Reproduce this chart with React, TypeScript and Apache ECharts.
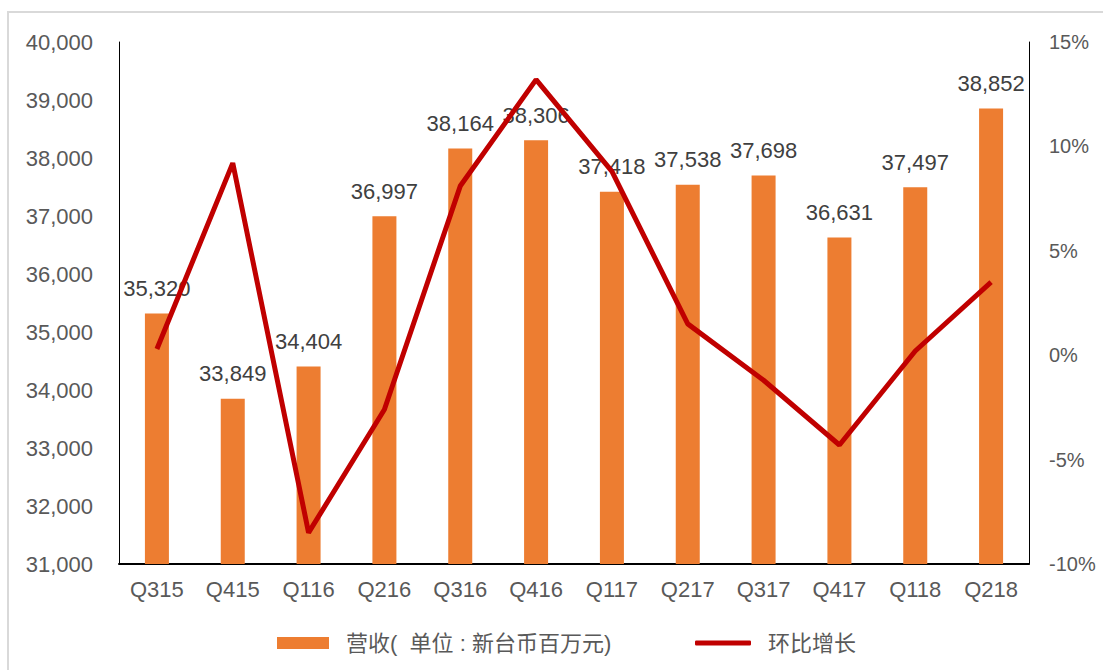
import React, { useEffect, useRef } from "react";
import * as echarts from "echarts";

const categories = ["Q315", "Q415", "Q116", "Q216", "Q316", "Q416", "Q117", "Q217", "Q317", "Q417", "Q118", "Q218"];
const revenue = [35320, 33849, 34404, 36997, 38164, 38306, 37418, 37538, 37698, 36631, 37497, 38852];
const qoqGrowth = [0.3, 9.2, -8.5, -2.6, 8.1, 13.2, 8.8, 1.5, -1.2, -4.3, 0.2, 3.5];
const barName = "营收(  单位 : 新台币百万元)";
const lineName = "环比增长";

const FONT = "'Liberation Sans', 'Noto Sans CJK SC', sans-serif";

export default function App() {
  const ref = useRef<HTMLDivElement>(null);
  useEffect(() => {
    document.body.style.margin = "0";
    const chart = echarts.init(ref.current!, null, { renderer: "svg" });
    chart.setOption({
      animation: false,
      backgroundColor: "#fff",
      textStyle: { fontFamily: FONT },
      graphic: [
        {
          type: "rect",
          shape: { x: 8, y: 12, width: 1110, height: 680 },
          style: { fill: "none", stroke: "#D9D9D9", lineWidth: 2 },
          silent: true,
        },
      ],
      grid: { left: 119, right: 74, top: 42, bottom: 106, containLabel: false },
      legend: [
        {
          top: 627,
          left: 272,
          textStyle: { fontSize: 22, color: "#595959", fontFamily: FONT, padding: [0, 0, 0, 12] },
          data: [{ name: barName, icon: "rect", itemStyle: { color: "#ED7D31" } }],
          itemWidth: 52,
          itemHeight: 12,
        },
        {
          top: 627,
          left: 690,
          textStyle: { fontSize: 22, color: "#595959", fontFamily: FONT, padding: [0, 0, 0, 12] },
          data: [{ name: lineName, icon: "roundRect", itemStyle: { color: "#C00000" } }],
          itemWidth: 56,
          itemHeight: 5,
        },
      ],
      xAxis: {
        type: "category",
        data: categories,
        axisLine: { onZero: false, lineStyle: { color: "#000", width: 2 } },
        axisTick: { show: false },
        axisLabel: { color: "#595959", fontSize: 22, margin: 14 },
      },
      yAxis: [
        {
          type: "value",
          min: 31000,
          max: 40000,
          interval: 1000,
          axisLine: { show: true, lineStyle: { color: "#000", width: 1 } },
          axisTick: { show: false },
          splitLine: { show: false },
          axisLabel: {
            color: "#595959",
            fontSize: 22,
            margin: 26,
            formatter: (v: number) => v.toLocaleString("en-US"),
          },
        },
        {
          type: "value",
          min: -10,
          max: 15,
          interval: 5,
          position: "right",
          axisLine: { show: true, lineStyle: { color: "#000", width: 1 } },
          axisTick: { show: false },
          splitLine: { show: false },
          axisLabel: { color: "#595959", fontSize: 20, margin: 20, formatter: "{value}%" },
        },
      ],
      series: [
        {
          name: barName,
          type: "bar",
          data: revenue,
          barWidth: 24,
          itemStyle: { color: "#ED7D31" },
          label: {
            show: true,
            position: "top",
            distance: 14,
            color: "#404040",
            fontSize: 22,
            formatter: (p: any) => Number(p.value).toLocaleString("en-US"),
          },
        },
        {
          name: lineName,
          type: "line",
          yAxisIndex: 1,
          data: qoqGrowth,
          symbol: "none",
          z: 10,
          lineStyle: { color: "#C00000", width: 5 },
          itemStyle: { color: "#C00000" },
        },
      ],
    });
    return () => chart.dispose();
  }, []);
  return <div ref={ref} style={{ width: 1103, height: 670 }} />;
}
